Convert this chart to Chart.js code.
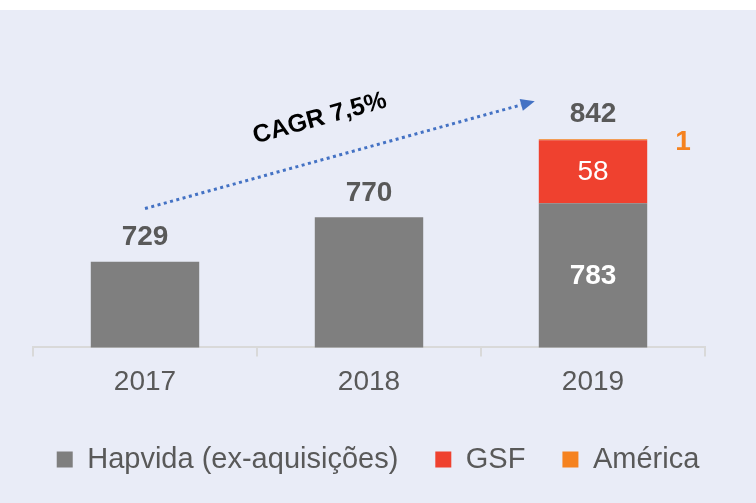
<!DOCTYPE html>
<html>
<head>
<meta charset="utf-8">
<script src="https://cdn.jsdelivr.net/npm/chart.js@4.4.1/dist/chart.umd.min.js"></script>
<style>
    html, body { margin: 0; padding: 0; background: #ffffff; }
    #wrap { position: absolute; left: 0; top: 10px; width: 756px; height: 493px; background: #E9ECF7; }
</style>
</head>
<body>
<div id="wrap"><canvas id="chart" width="756" height="493"></canvas></div>
<script>
// ==================== DATA ====================
const years = ['2017', '2018', '2019'];
const hapvida = [729, 770, 783];
const gsf = [null, null, 58];
const america = [null, null, 1];
const seriesNames = ['Hapvida (ex-aquisições)', 'GSF', 'América'];
const cagrLabel = 'CAGR 7,5%';

// ==================== STYLE ====================
const FONT = "'Liberation Sans', Arial, sans-serif";
const GREY = '#7F7F7F';
const RED = '#EF412F';
const ORANGE = '#F5821F';
const TEXT = '#595959';

// ==================== PLUGINS ====================
// value labels on / above the bars
const valueLabels = {
    id: 'valueLabels',
    afterDatasetsDraw(chart) {
        const ctx = chart.ctx;
        const area = chart.chartArea;
        const mH = chart.getDatasetMeta(0);
        const mG = chart.getDatasetMeta(1);
        const mA = chart.getDatasetMeta(2);
        ctx.save();
        ctx.textAlign = 'center';
        ctx.textBaseline = 'middle';
        years.forEach((yr, i) => {
            const barH = mH.data[i];
            if (gsf[i] == null) {
                ctx.font = 'bold 28px ' + FONT;
                ctx.fillStyle = TEXT;
                ctx.fillText(String(hapvida[i]), barH.x, barH.y - 24);
                return;
            }
            // stacked column
            ctx.font = 'bold 28px ' + FONT;
            ctx.fillStyle = '#ffffff';
            ctx.fillText(String(hapvida[i]), barH.x, (barH.y + area.bottom) / 2 + 1);

            const barG = mG.data[i];
            ctx.font = '28px ' + FONT;
            ctx.fillText(String(gsf[i]), barG.x, (barG.y + barG.base) / 2 + 1);

            const barA = mA.data[i];
            ctx.font = 'bold 28px ' + FONT;
            ctx.fillStyle = ORANGE;
            ctx.fillText(String(america[i]), barA.x + 90, barA.y + 3);

            const total = hapvida[i] + gsf[i] + america[i];
            ctx.fillStyle = TEXT;
            ctx.fillText(String(total), barA.x, barA.y - 25);
        });
        ctx.restore();
    }
};

// dotted CAGR arrow + label
const cagrArrow = {
    id: 'cagrArrow',
    afterDatasetsDraw(chart, args, opts) {
        const ctx = chart.ctx;
        const xs = chart.scales.x, ys = chart.scales.y;
        const x1 = xs.getPixelForValue(opts.from[0]), y1 = ys.getPixelForValue(opts.from[1]);
        const x2 = xs.getPixelForValue(opts.to[0]), y2 = ys.getPixelForValue(opts.to[1]);
        const ang = Math.atan2(y2 - y1, x2 - x1);
        const head = 14;

        ctx.save();
        ctx.strokeStyle = '#4472C4';
        ctx.fillStyle = '#4472C4';
        ctx.lineWidth = 3;
        ctx.setLineDash([3, 3.5]);
        ctx.beginPath();
        ctx.moveTo(x1, y1);
        ctx.lineTo(x2 - head * Math.cos(ang), y2 - head * Math.sin(ang));
        ctx.stroke();
        ctx.setLineDash([]);
        ctx.beginPath();
        ctx.moveTo(x2, y2);
        ctx.lineTo(x2 - head * Math.cos(ang) + 6 * Math.sin(ang), y2 - head * Math.sin(ang) - 6 * Math.cos(ang));
        ctx.lineTo(x2 - head * Math.cos(ang) - 6 * Math.sin(ang), y2 - head * Math.sin(ang) + 6 * Math.cos(ang));
        ctx.closePath();
        ctx.fill();

        // label
        const tx = xs.getPixelForValue(opts.text[0]), ty = ys.getPixelForValue(opts.text[1]);
        ctx.translate(tx, ty);
        ctx.rotate(ang);
        ctx.font = 'bold 25px ' + FONT;
        ctx.fillStyle = '#000000';
        ctx.textAlign = 'center';
        ctx.textBaseline = 'middle';
        ctx.fillText(cagrLabel, 0, 0);
        ctx.restore();
    }
};

// fixed-width invisible side axes to place the plot area
function fixWidth(w) {
    return function (scale) { scale.width = w; };
}

// ==================== CHART ====================
const ctx = document.getElementById('chart').getContext('2d');

const chart = new Chart(ctx, {
    type: 'bar',
    data: {
        labels: years,
        datasets: [
            { label: seriesNames[0], data: hapvida, backgroundColor: GREY },
            { label: seriesNames[1], data: gsf, backgroundColor: RED },
            { label: seriesNames[2], data: america, backgroundColor: ORANGE }
        ]
    },
    options: {
        responsive: false,
        animation: false,
        categoryPercentage: 1,
        barPercentage: 0.484,
        layout: {
            padding: { top: 12, left: 0, right: 0, bottom: 19 }
        },
        plugins: {
            legend: {
                position: 'bottom',
                labels: {
                    boxWidth: 16,
                    boxHeight: 16,
                    padding: 37,
                    color: TEXT,
                    font: { family: FONT, size: 29 }
                }
            },
            tooltip: { enabled: false },
            cagrArrow: {
                from: [0, 778],
                to: [1.74, 877],
                text: [0.78, 861]
            }
        },
        scales: {
            x: {
                stacked: true,
                grid: {
                    drawOnChartArea: false,
                    color: '#D9D9D9',
                    lineWidth: 2,
                    tickLength: 9
                },
                border: { color: '#D9D9D9', width: 2 },
                ticks: {
                    color: TEXT,
                    padding: 9,
                    font: { family: FONT, size: 28 }
                }
            },
            y: {
                stacked: true,
                min: 650,
                max: 950,
                ticks: { display: false },
                grid: { display: false },
                border: { display: false },
                afterFit: fixWidth(33)
            },
            yRight: {
                type: 'linear',
                position: 'right',
                ticks: { display: false },
                grid: { display: false },
                border: { display: false },
                afterFit: fixWidth(51)
            }
        }
    },
    plugins: [valueLabels, cagrArrow]
});
</script>
</body>
</html>
